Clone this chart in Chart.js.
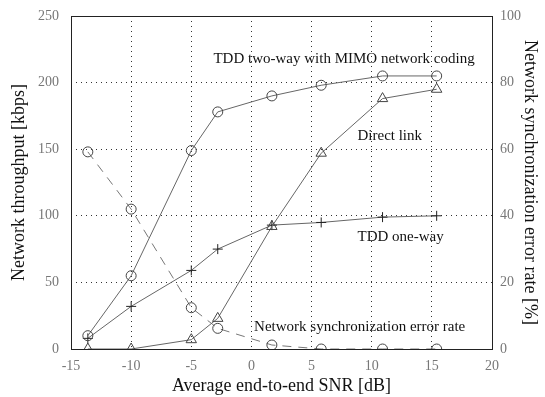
<!DOCTYPE html>
<html lang="en">
<head>
<meta charset="UTF-8">
<title>Network throughput vs SNR</title>
<script src="https://cdn.jsdelivr.net/npm/chart.js@4/dist/chart.umd.min.js"></script>
<style>
  html, body { margin: 0; padding: 0; background: #fff; }
  #wrap { width: 545px; height: 397px; }
</style>
</head>
<body>
<div id="wrap"><canvas id="grafico" width="545" height="397"></canvas></div>
<script>
// SNR points (dB)
const snr = [-13.6, -10, -5, -2.8, 1.7, 5.8, 10.9, 15.4];

// throughput, kbps (left axis)
const mimoTwoWay = [10, 55, 149, 178, 190, 198, 205, 205];
const directLink = [0, 0, 7, 23, 92, 147, 188, 195];
const tddOneWay = [8, 32, 59, 75, 93, 95, 99, 100];

// sync error rate, % (right axis)
const syncError = [59.2, 42, 12.4, 6.2, 1.2, 0, 0, 0];

const xTicks = [-15, -10, -5, 0, 5, 10, 15, 20];
const yLeftTicks = [0, 50, 100, 150, 200, 250];
const yRightTicks = [0, 20, 40, 60, 80, 100];

// text labels placed at data positions (x in dB, y in kbps)
const notes = [
  { text: 'TDD two-way with MIMO network coding', x: 7.7, y: 218 },
  { text: 'Direct link', x: 11.5, y: 160 },
  { text: 'TDD one-way', x: 12.4, y: 84 },
  { text: 'Network synchronization error rate', x: 9.0, y: 16.5 }
];

const pts = (ys) => ys.map((v, i) => ({ x: snr[i], y: v }));
const serif = 'Liberation Serif, Times New Roman, serif';

const moldura = {
  id: 'moldura',
  afterDraw(chart) {
    const { ctx, chartArea: a, scales } = chart;
    ctx.save();
    ctx.strokeStyle = '#222';
    ctx.lineWidth = 1;
    ctx.strokeRect(a.left + 0.5, a.top + 0.5, a.right - a.left, a.bottom - a.top);
    ctx.fillStyle = '#111';
    ctx.font = '15px ' + serif;
    ctx.textAlign = 'center';
    ctx.textBaseline = 'middle';
    notes.forEach(n => {
      ctx.fillText(n.text, scales.x.getPixelForValue(n.x), scales.y.getPixelForValue(n.y));
    });
    ctx.restore();
  }
};

// fixed widths, no extra vertical padding from tick labels
const fixarLargura = (w) => (s) => { s.width = w; s.paddingTop = 0; s.paddingBottom = 0; };

const linha = '#666';
const config = {
  type: 'line',
  data: {
    datasets: [
      { label: 'TDD two-way with MIMO network coding', data: pts(mimoTwoWay), yAxisID: 'y',
        borderColor: linha, borderWidth: 1, pointStyle: 'circle', pointRadius: 5,
        pointBorderColor: '#444', pointBackgroundColor: 'rgba(0,0,0,0)', pointBorderWidth: 1 },
      { label: 'Direct link', data: pts(directLink), yAxisID: 'y',
        borderColor: linha, borderWidth: 1, pointStyle: 'triangle', pointRadius: 6,
        pointBorderColor: '#444', pointBackgroundColor: 'rgba(0,0,0,0)', pointBorderWidth: 1 },
      { label: 'TDD one-way', data: pts(tddOneWay), yAxisID: 'y',
        borderColor: linha, borderWidth: 1, pointStyle: 'cross', pointRadius: 5,
        pointBorderColor: '#222', pointBorderWidth: 1 },
      { label: 'Network synchronization error rate', data: pts(syncError), yAxisID: 'y2',
        borderColor: '#777', borderWidth: 1, borderDash: [9, 7], pointStyle: 'circle', pointRadius: 5,
        pointBorderColor: '#444', pointBackgroundColor: 'rgba(0,0,0,0)', pointBorderWidth: 1 }
    ]
  },
  options: {
    responsive: false,
    animation: false,
    layout: { padding: { top: 16, left: 8, right: 0, bottom: 0 } },
    plugins: { legend: { display: false }, tooltip: { enabled: false } },
    scales: {
      x: {
        type: 'linear', min: -15, max: 20,
        afterBuildTicks: (s) => { s.ticks = xTicks.map(v => ({ value: v })); },
        afterFit: (s) => { s.height = 48; },
        grid: { color: '#333', drawTicks: false, drawOnChartArea: true },
        border: { display: false, dash: [1, 4] },
        ticks: { color: '#777', font: { family: serif, size: 14 }, padding: 9 },
        title: { display: true, text: 'Average end-to-end SNR [dB]', color: '#111',
          font: { family: serif, size: 18 }, padding: { top: 0, bottom: 0 } }
      },
      y: {
        type: 'linear', position: 'left', min: 0, max: 250,
        afterBuildTicks: (s) => { s.ticks = yLeftTicks.map(v => ({ value: v })); },
        afterFit: fixarLargura(63),
        grid: { color: '#333', drawTicks: false },
        border: { display: false, dash: [1, 4] },
        ticks: { color: '#777', font: { family: serif, size: 14 }, padding: 12 },
        title: { display: true, text: 'Network throughput [kbps]', color: '#111',
          font: { family: serif, size: 18 }, padding: { top: 0, bottom: 4 } }
      },
      y2: {
        type: 'linear', position: 'right', min: 0, max: 100,
        afterBuildTicks: (s) => { s.ticks = yRightTicks.map(v => ({ value: v })); },
        afterFit: fixarLargura(53),
        grid: { display: false, drawTicks: false },
        border: { display: false },
        ticks: { color: '#777', font: { family: serif, size: 14 }, padding: 8 },
        title: { display: true, text: 'Network synchronization error rate [%]', color: '#111',
          font: { family: serif, size: 18 }, padding: { top: 4, bottom: 0 } }
      }
    }
  },
  plugins: [moldura]
};

const grafico = new Chart(document.getElementById('grafico'), config);
</script>
</body>
</html>
